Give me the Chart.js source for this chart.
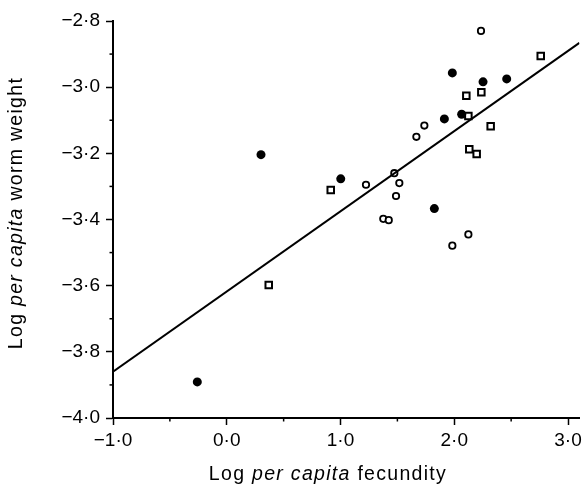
<!DOCTYPE html>
<html>
<head>
<meta charset="utf-8">
<script src="https://cdn.jsdelivr.net/npm/chart.js@4"></script>
<style>
  body { margin: 0; background: #fff; }
  #wrap { width: 587px; height: 485px; }
</style>
</head>
<body>
<div id="wrap"><canvas id="fecundityChart" width="587" height="485"></canvas></div>
<script>
// Filled circles
const filledX = [1.983, 2.253, 2.461, 1.913, 2.065, 1.002, 1.825, 0.301, -0.259];
const filledY = [-2.957, -2.984, -2.975, -3.096, -3.082, -3.277, -3.367, -3.204, -3.891];
// Open circles
const openX = [2.235, 1.737, 1.667, 1.224, 1.517, 1.488, 1.473, 1.376, 1.424, 2.124, 1.983];
const openY = [-2.830, -3.116, -3.150, -3.295, -3.290, -3.329, -3.260, -3.398, -3.402, -3.445, -3.479];
// Open squares
const squareX = [2.760, 2.106, 2.238, 2.124, 2.320, 2.132, 2.197, 0.914, 0.369];
const squareY = [-2.906, -3.026, -3.015, -3.087, -3.118, -3.188, -3.202, -3.311, -3.598];
// Regression line
const fitX = [-1.0, 3.1];
const fitY = [-3.860, -2.866];

// Axis ticks
const xTicks = [-1, 0, 1, 2, 3];
const xMinorTicks = [-0.5, 0.5, 1.5, 2.5];
const yTicks = [-4.0, -3.8, -3.6, -3.4, -3.2, -3.0, -2.8];
const yMinorTicks = [-3.9, -3.7, -3.5, -3.3, -3.1, -2.9];

const toPoints = (xs, ys) => xs.map((x, i) => ({ x: x, y: ys[i] }));
const fmt = (v) => (v < -1e-9 ? "\u2212" : "") + Math.abs(v).toFixed(1).replace(".", "\u00b7");

const FONT = "'Liberation Sans', Arial, sans-serif";

// minor ticks + mixed-style axis titles
const extras = {
  id: "extras",
  afterDraw(chart) {
    const ctx = chart.ctx;
    const xs = chart.scales.x, ys = chart.scales.y;
    ctx.save();
    ctx.strokeStyle = "#000";
    ctx.lineWidth = 1.5;
    xMinorTicks.forEach((v) => {
      const p = xs.getPixelForValue(v);
      ctx.beginPath();
      ctx.moveTo(p, xs.top);
      ctx.lineTo(p, xs.top + 3.5);
      ctx.stroke();
    });
    yMinorTicks.forEach((v) => {
      const p = ys.getPixelForValue(v);
      ctx.beginPath();
      ctx.moveTo(ys.right - 3.5, p);
      ctx.lineTo(ys.right, p);
      ctx.stroke();
    });

    ctx.fillStyle = "#000";
    ctx.textBaseline = "alphabetic";
    ctx.textAlign = "left";
    try { ctx.letterSpacing = "1.3px"; } catch (e) {}
    const drawParts = (parts, cx, cy, rot) => {
      let total = 0;
      parts.forEach((p) => {
        ctx.font = p[1] + " 19.5px " + FONT;
        total += ctx.measureText(p[0]).width;
      });
      ctx.save();
      ctx.translate(cx, cy);
      ctx.rotate(rot);
      let x = -total / 2;
      parts.forEach((p) => {
        ctx.font = p[1] + " 19.5px " + FONT;
        ctx.fillText(p[0], x, 0);
        x += ctx.measureText(p[0]).width;
      });
      ctx.restore();
    };
    drawParts([["Log ", "normal"], ["per capita", "italic"], [" fecundity", "normal"]], 328, 480, 0);
    drawParts([["Log ", "normal"], ["per capita", "italic"], [" worm weight", "normal"]], 22, 213, -Math.PI / 2);
    ctx.restore();
  }
};

const ctx = document.getElementById("fecundityChart").getContext("2d");
const chart = new Chart(ctx, {
  type: "scatter",
  data: {
    datasets: [
      {
        type: "line",
        data: toPoints(fitX, fitY),
        borderColor: "#000",
        borderWidth: 2,
        pointRadius: 0,
        fill: false,
      },
      {
        data: toPoints(filledX, filledY),
        pointStyle: "circle",
        pointRadius: 4.5,
        backgroundColor: "#000",
        borderColor: "#000",
        borderWidth: 0,
      },
      {
        data: toPoints(openX, openY),
        pointStyle: "circle",
        pointRadius: 3.2,
        backgroundColor: "#fff",
        borderColor: "#000",
        borderWidth: 1.8,
      },
      {
        data: toPoints(squareX, squareY),
        pointStyle: "rect",
        pointRadius: 4.6,
        backgroundColor: "#fff",
        borderColor: "#000",
        borderWidth: 2,
      },
    ],
  },
  options: {
    responsive: false,
    animation: false,
    layout: {
      padding: { left: 0, right: 7.6, top: 21, bottom: 0 },
    },
    plugins: {
      legend: { display: false },
      tooltip: { enabled: false },
    },
    scales: {
      x: {
        type: "linear",
        min: -1,
        max: 3.1,
        afterBuildTicks: (s) => { s.ticks = xTicks.map((v) => ({ value: v })); },
        afterFit: (s) => { s.height = 67; },
        border: { display: true, color: "#000", width: 2 },
        grid: { drawOnChartArea: false, drawTicks: true, tickLength: 7, tickWidth: 1.5, tickColor: "#000" },
        ticks: {
          autoSkip: false,
          maxRotation: 0,
          padding: 4,
          color: "#000",
          font: { family: FONT, size: 19 },
          callback: (v) => fmt(v),
        },
      },
      y: {
        type: "linear",
        min: -4.0,
        max: -2.8,
        afterBuildTicks: (s) => { s.ticks = yTicks.map((v) => ({ value: v })); },
        afterFit: (s) => { s.width = 113; },
        border: { display: true, color: "#000", width: 2 },
        grid: { drawOnChartArea: false, drawTicks: true, tickLength: 7, tickWidth: 1.5, tickColor: "#000" },
        ticks: {
          autoSkip: false,
          padding: 6,
          color: "#000",
          font: { family: FONT, size: 19 },
          callback: (v) => fmt(v),
        },
      },
    },
  },
  plugins: [extras],
});
</script>
</body>
</html>
